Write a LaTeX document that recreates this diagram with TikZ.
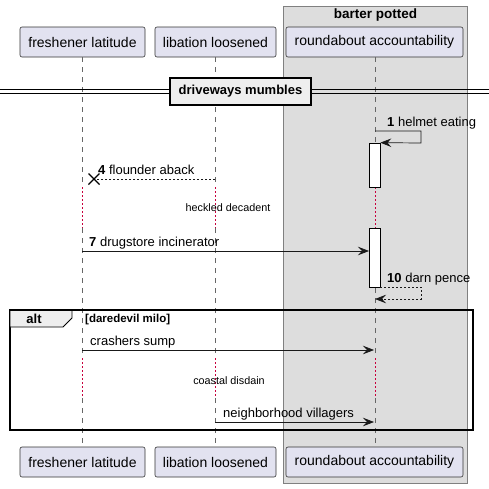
\documentclass[tikz,border=0pt]{standalone}
\usepackage{fontspec}
\setmainfont{Liberation Sans}
\usetikzlibrary{arrows.meta,calc}
\definecolor{delaycol}{RGB}{200,0,60}
\definecolor{partfill}{RGB}{226,226,240}
\definecolor{grpfill}{RGB}{221,221,221}
\definecolor{tabfill}{RGB}{238,238,238}
\begin{document}
\begin{tikzpicture}[x=1pt,y=-1pt,
  part/.style={draw=black!80, fill=partfill, rounded corners=2pt, line width=0.6pt, minimum height=30pt, inner sep=0pt, font=\fontsize{14}{16}\selectfont},
  life/.style={draw=black!60, dash pattern=on 5pt off 5pt, line width=0.6pt},
  delay/.style={draw=delaycol, dash pattern=on 1.5pt off 2.5pt, line width=1.3pt},
  msg/.style={draw=black!90, line width=0.7pt, -{Stealth[length=11pt,width=8.5pt,inset=4pt]}},
  dmsg/.style={msg, dash pattern=on 2pt off 2pt},
  lbl/.style={font=\fontsize{13}{15}\selectfont, inner sep=0pt, anchor=base west},
  small/.style={font=\fontsize{10.8}{12}\selectfont, inner sep=0pt},
  act/.style={draw=black, fill=white, line width=0.7pt}
]
\useasboundingbox (0,0) rectangle (489,488);
\fill[white] (0,0) rectangle (489,488);
% group
\draw[fill=grpfill, draw=black!50, line width=0.8pt] (283,6) rectangle (467,483);
\node[font=\bfseries\fontsize{13.5}{15}\selectfont, inner sep=0pt] (grp) at (375.5,15) {barter potted};
% participants
\node[part, minimum width=125pt] (fT) at (82.5,42) {freshener latitude};
\node[part, minimum width=121pt] (lT) at (215.5,42) {libation loosened};
\node[part, minimum width=177pt] (rT) at (374.5,42) {roundabout accountability};
\node[part, minimum width=125pt] (fB) at (82.5,462) {freshener latitude};
\node[part, minimum width=121pt] (lB) at (215.5,462) {libation loosened};
\node[part, minimum width=177pt] (rB) at (374.5,462) {roundabout accountability};
% lifelines coordinates
\coordinate (f1) at (82.5,187); \coordinate (f2) at (82.5,228);
\coordinate (f3) at (82.5,358); \coordinate (f4) at (82.5,398);
\coordinate (l1) at (215.5,187); \coordinate (l2) at (215.5,228);
\coordinate (l3) at (215.5,358); \coordinate (l4) at (215.5,398);
\coordinate (r1) at (375.5,187); \coordinate (r2) at (375.5,228);
\coordinate (r3) at (375.5,358); \coordinate (r4) at (375.5,398);
\draw[life] (fT.south -| f1) -- (f1); \draw[delay] (f1) -- (f2);
\draw[life] (f2) -- (f3); \draw[delay] (f3) -- (f4); \draw[life] (f4) -- (fB.north -| f1);
\draw[life] (lT.south -| l1) -- (l1); \draw[delay] (l1) -- (l2);
\draw[life] (l2) -- (l3); \draw[delay] (l3) -- (l4); \draw[life] (l4) -- (lB.north -| l1);
\draw[life] (rT.south -| r1) -- (r1); \draw[delay] (r1) -- (r2);
\draw[life] (r2) -- (r3); \draw[delay] (r3) -- (r4); \draw[life] (r4) -- (rB.north -| r1);
% divider
\draw[line width=0.8pt] (0,89.5) -- (489,89.5) (0,93) -- (489,93);
\node[draw=black, line width=1.6pt, fill=tabfill, minimum width=141pt, minimum height=27pt, inner sep=0pt, font=\bfseries\fontsize{13}{15}\selectfont] (div) at (240.5,91.5) {driveways mumbles};
% activations
\node[act, minimum width=11pt, minimum height=44pt, inner sep=0pt] (a1) at (374.5,165) {};
\node[act, minimum width=11pt, minimum height=59pt, inner sep=0pt] (a2) at (374.5,257.5) {};
% message 1
\coordinate (m1s) at (375,131);
\coordinate (m1a) at (421,131);
\coordinate (m1b) at (421,143);
\draw[msg] (m1s) -- (m1a) -- (m1b) -- (a1.north east);
\node[lbl] (t1) at (387,126) {\textbf{1} helmet eating};
% message 4
\coordinate (m4s) at (215,179);
\coordinate (m4x) at (94,179);
\draw[draw=black!90, line width=0.7pt, dash pattern=on 2pt off 2pt] (m4s) -- (m4x);
\draw[line width=1.4pt] ($(m4x)+(-5.5,-5.5)$) -- ($(m4x)+(5.5,5.5)$) ($(m4x)+(-5.5,5.5)$) -- ($(m4x)+(5.5,-5.5)$);
\node[lbl] (t4) at (98,174) {\textbf{4} flounder aback};
% delay text
\node[small] (d1) at (228,208) {heckled decadent};
% message 7
\coordinate (m7s) at (82,251);
\coordinate (m7e) at (369,251);
\draw[msg] (m7s) -- (m7e);
\node[lbl] (t7) at (89,246) {\textbf{7} drugstore incinerator};
% message 10
\coordinate (m10s) at (380,287);
\coordinate (m10a) at (421,287);
\coordinate (m10b) at (421,299);
\coordinate (m10e) at (375,299);
\draw[dmsg] (m10s) -- (m10a) -- (m10b) -- (m10e);
\node[lbl] (t10) at (387,282) {\textbf{10} darn pence};
% alt frame
\draw[line width=1.6pt] (10,310) rectangle (473,430);
\draw[line width=0.8pt, fill=tabfill] (10,310) -- (72,310) -- (72,318) -- (63,327) -- (10,327) -- cycle;
\draw[line width=1.6pt] (10,310) -- (473,310);
\node[font=\bfseries\fontsize{13}{15}\selectfont, inner sep=0pt] (alt) at (34,319) {alt};
\node[font=\bfseries\fontsize{11.5}{13}\selectfont, inner sep=0pt, anchor=west] (cond) at (85,319.5) {[daredevil milo]};
% crashers sump
\coordinate (csS) at (82,350);
\coordinate (csE) at (374,350);
\draw[msg] (csS) -- (csE);
\node[lbl] (tcs) at (90,345) {crashers sump};
\node[small] (d2) at (229,381) {coastal disdain};
% neighborhood villagers
\coordinate (nvS) at (215,422);
\coordinate (nvE) at (374,422);
\draw[msg] (nvS) -- (nvE);
\node[lbl] (tnv) at (223,417) {neighborhood villagers};
\end{tikzpicture}
\end{document}
